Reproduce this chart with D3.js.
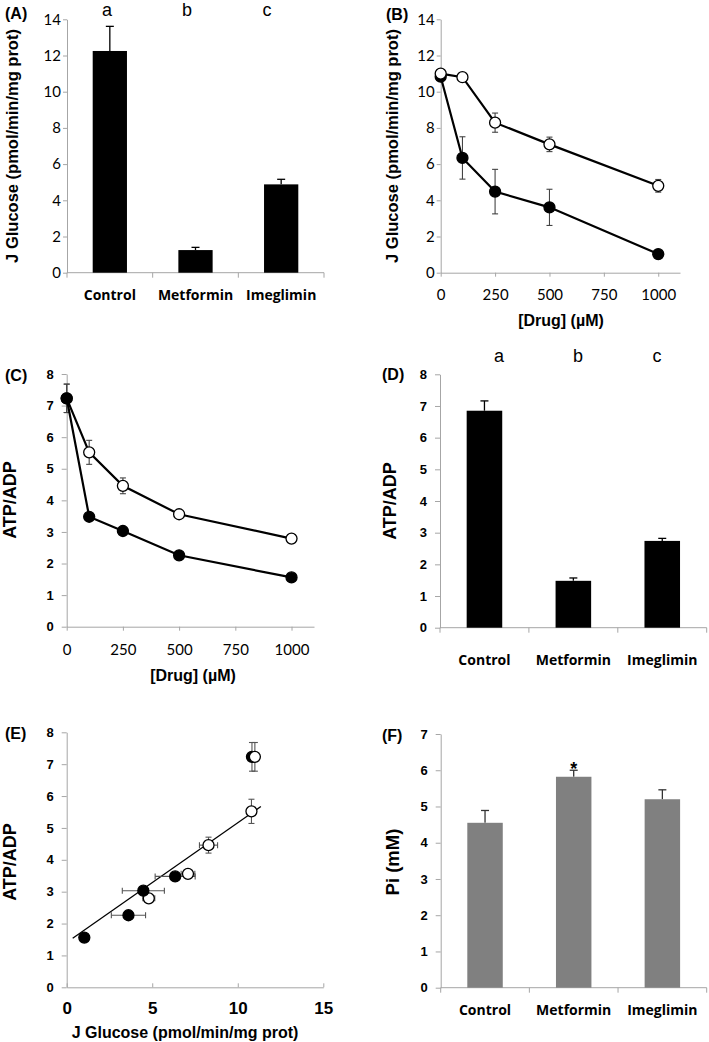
<!DOCTYPE html>
<html><head><meta charset="utf-8">
<script src="https://cdn.jsdelivr.net/npm/d3@7"></script>
<style>body{margin:0;background:#fff} svg{display:block}</style>
</head><body><svg id="c" width="709" height="1042"></svg>
<script>
// ---------- data ----------
const categories = ["Control", "Metformin", "Imeglimin"];
const groupLetters = ["a", "b", "c"];
const glucoseMean = [12.25, 1.25, 4.88];
const glucoseErr = [1.36, 0.15, 0.28];
const glucoseTicks = [0, 2, 4, 6, 8, 10, 12, 14];
const doses = [0, 100, 250, 500, 1000];
const doseTicks = [0, 250, 500, 750, 1000];
const glucoseFilled = [10.83, 6.34, 4.48, 3.61, 1.03];
const glucoseFilledErr = [0.15, 1.17, 1.23, 1.0, 0.1];
const glucoseOpen = [11.0, 10.8, 8.29, 7.09, 4.8];
const glucoseOpenErr = [0.1, 0.1, 0.53, 0.4, 0.35];
const atpFilled = [7.23, 3.48, 3.03, 2.26, 1.56];
const atpFilledErr = [0.45, 0.08, 0.08, 0.08, 0.12];
const atpOpen = [7.23, 5.52, 4.46, 3.56, 2.79];
const atpOpenErr = [0.45, 0.38, 0.25, 0.08, 0.1];
const atpTicks = [0, 1, 2, 3, 4, 5, 6, 7, 8];
const atpMean = [6.85, 1.48, 2.74];
const atpErr = [0.31, 0.09, 0.08];
const jTicks = [0, 5, 10, 15];
const fitLine = [[0.35, 1.54], [11.35, 5.67]];
const piMean = [4.55, 5.82, 5.20];
const piErr = [0.34, 0.18, 0.26];
const piTicks = [0, 1, 2, 3, 4, 5, 6, 7];

// ---------- helpers ----------
const svg = d3.select("#c");
const AX = "#a6a6a6";
const ARIAL = "'Liberation Sans', Arial, sans-serif";
const CAL = "Lato, 'Open Sans', sans-serif";
const CATF = "'Open Sans', Lato, sans-serif";

function styleAxis(g, font, size, weight) {
  g.selectAll(".domain").attr("stroke", AX).attr("stroke-width", 1);
  g.selectAll(".tick line").attr("stroke", AX);
  g.selectAll("text").attr("fill", "#000").attr("font-family", font)
    .attr("font-size", size).attr("font-weight", weight);
  g.attr("font-family", null).attr("font-size", null);
}
function text(x, y, s, o) {
  const t = svg.append("text").attr("x", x).attr("y", y).text(s)
    .attr("font-family", o.font || ARIAL).attr("font-size", o.size || 16)
    .attr("font-weight", o.weight || "bold").attr("fill", "#000")
    .attr("text-anchor", o.anchor || "start");
  if (o.rot) t.attr("transform", `rotate(-90,${x},${y})`).attr("dominant-baseline", "central");
  return t;
}
function yAxis(x0, y, ticks, font, size, weight, tsize, pad) {
  const g = svg.append("g").attr("transform", `translate(${x0},0)`)
    .call(d3.axisLeft(y).tickValues(ticks).tickSize(tsize).tickPadding(pad).tickSizeOuter(0).tickFormat(d3.format("d")));
  styleAxis(g, font, size, weight);
}
function barPanel(o) {
  const x = d3.scaleBand().domain(categories).range(o.xr);
  const y = d3.scaleLinear().domain([0, o.ymax]).range(o.yr);
  yAxis(o.xr[0], y, o.ticks, o.tickFont, o.tickSize, o.tickWeight, o.ts, o.tp);
  const base = y(0);
  svg.append("line").attr("x1", o.xr[0]).attr("x2", o.xr[1]).attr("y1", base).attr("y2", base).attr("stroke", AX);
  const bounds = categories.map(c => x(c)).concat([o.xr[1]]);
  svg.selectAll(null).data(bounds).enter().append("line")
    .attr("x1", d => d).attr("x2", d => d).attr("y1", base).attr("y2", base + 5).attr("stroke", AX);
  const bw = x.bandwidth() * 0.4;
  const rows = categories.map((c, i) => ({ c, m: o.mean[i], e: o.err[i] }));
  const cx = d => x(d.c) + x.bandwidth() / 2;
  svg.selectAll(null).data(rows).enter().append("line")
    .attr("x1", cx).attr("x2", cx).attr("y1", d => y(d.m)).attr("y2", d => y(d.m + d.e))
    .attr("stroke", o.errColor).attr("stroke-width", 1.3);
  svg.selectAll(null).data(rows).enter().append("line")
    .attr("x1", d => cx(d) - 4).attr("x2", d => cx(d) + 4).attr("y1", d => y(d.m + d.e)).attr("y2", d => y(d.m + d.e))
    .attr("stroke", o.errColor).attr("stroke-width", 1.3);
  svg.selectAll(null).data(rows).enter().append("rect")
    .attr("x", d => cx(d) - bw / 2).attr("width", bw)
    .attr("y", d => y(d.m)).attr("height", d => base - y(d.m)).attr("fill", o.fill);
  svg.selectAll(null).data(rows).enter().append("text")
    .attr("x", cx).attr("y", o.catY).text(d => d.c).attr("text-anchor", "middle")
    .attr("font-family", CATF).attr("font-weight", "bold").attr("font-size", 14).attr("fill", "#000");
  return { x, y, rows, cx };
}
function errV(x, y, px, v, e, color, cap) {
  svg.append("line").attr("x1", px).attr("x2", px).attr("y1", y(v - e)).attr("y2", y(v + e)).attr("stroke", color).attr("stroke-width", 1.1);
  [v - e, v + e].forEach(t => svg.append("line").attr("x1", px - cap).attr("x2", px + cap).attr("y1", y(t)).attr("y2", y(t)).attr("stroke", color).attr("stroke-width", 1.1));
}
function errH(x, py, v, e, color, cap) {
  svg.append("line").attr("y1", py).attr("y2", py).attr("x1", x(v - e)).attr("x2", x(v + e)).attr("stroke", color).attr("stroke-width", 1.1);
  [v - e, v + e].forEach(t => svg.append("line").attr("y1", py - cap).attr("y2", py + cap).attr("x1", x(t)).attr("x2", x(t)).attr("stroke", color).attr("stroke-width", 1.1));
}
function dot(px, py, filled) {
  svg.append("circle").attr("cx", px).attr("cy", py).attr("r", 5.5)
    .attr("fill", filled ? "#000" : "#fff").attr("stroke", "#000").attr("stroke-width", 1.3);
}
function linePanel(o) {
  const x = d3.scaleLinear().domain([0, 1100]).range(o.xr);
  const y = d3.scaleLinear().domain([0, o.ymax]).range(o.yr);
  yAxis(o.xr[0], y, o.ticks, o.tickFont, o.tickSize, o.tickWeight, o.ts, o.tp);
  const gx = svg.append("g").attr("transform", `translate(0,${y(0)})`)
    .call(d3.axisBottom(x).tickValues(doseTicks).tickSize(4).tickPadding(o.xpad).tickSizeOuter(0).tickFormat(d3.format("d")));
  styleAxis(gx, CAL, 15, "normal");
  const line = d3.line().x((d, i) => x(doses[i])).y(d => y(d));
  o.series.forEach(s => {
    s.vals.forEach((v, i) => errV(x, y, x(doses[i]), v, s.err[i], "#444", 3));
    svg.append("path").attr("d", line(s.vals)).attr("fill", "none").attr("stroke", "#000").attr("stroke-width", 2.2);
    s.vals.forEach((v, i) => dot(x(doses[i]), y(v), s.filled));
  });
}

// ---------- Panel A ----------
const A = barPanel({ xr: [67, 324], yr: [272.7, 19.3], ymax: 14, ticks: glucoseTicks, tickFont: CAL, tickSize: 15, tickWeight: "normal", ts: 4, tp: 2,
  mean: glucoseMean, err: glucoseErr, fill: "#000", errColor: "#000", catY: 300 });
const lA = d3.scalePoint().domain(categories).range([107, 267]);
categories.forEach((c, i) => text(lA(c), 16, groupLetters[i], { font: "'Liberation Sans Narrow', 'Liberation Sans', sans-serif", size: 18, weight: "normal", anchor: "middle" }));
text(5, 19, "(A)", { size: 16 });
text(12, 146, "J Glucose (pmol/min/mg prot)", { size: 16.5, anchor: "middle", rot: true });

// ---------- Panel B ----------
linePanel({ xr: [440.7, 680], yr: [272.7, 19.3], ymax: 14, ticks: glucoseTicks, tickFont: CAL, tickSize: 15, tickWeight: "normal", ts: 4, tp: 2, xpad: 13,
  series: [{ vals: glucoseFilled, err: glucoseFilledErr, filled: true }, { vals: glucoseOpen, err: glucoseOpenErr, filled: false }] });
text(386, 20, "(B)", { size: 16 });
text(392, 146, "J Glucose (pmol/min/mg prot)", { size: 16.5, anchor: "middle", rot: true });
text(561, 326, "[Drug] (µM)", { size: 16, anchor: "middle" });

// ---------- Panel C ----------
linePanel({ xr: [66.7, 314], yr: [626.7, 374], ymax: 8, ticks: atpTicks, tickFont: ARIAL, tickSize: 13, tickWeight: "bold", ts: 5, tp: 8, xpad: 14,
  series: [{ vals: atpOpen, err: atpOpenErr, filled: false }, { vals: atpFilled, err: atpFilledErr, filled: true }] });
text(5, 381, "(C)", { size: 16 });
text(10, 500, "ATP/ADP", { size: 18, anchor: "middle", rot: true });
text(193, 681, "[Drug] (µM)", { size: 16, anchor: "middle" });

// ---------- Panel D ----------
barPanel({ xr: [440, 706.7], yr: [627.7, 374.3], ymax: 8, ticks: atpTicks, tickFont: ARIAL, tickSize: 13, tickWeight: "bold", ts: 5, tp: 8,
  mean: atpMean, err: atpErr, fill: "#000", errColor: "#000", catY: 665 });
const lD = d3.scalePoint().domain(categories).range([499, 657]);
categories.forEach((c, i) => text(lD(c), 362, groupLetters[i], { font: "'Liberation Sans Narrow', 'Liberation Sans', sans-serif", size: 18, weight: "normal", anchor: "middle" }));
text(382, 380, "(D)", { size: 16 });
text(390, 501, "ATP/ADP", { size: 18, anchor: "middle", rot: true });

// ---------- Panel E ----------
{
  const x = d3.scaleLinear().domain([0, 15]).range([66.7, 323.3]);
  const y = d3.scaleLinear().domain([0, 8]).range([987.3, 732.3]);
  yAxis(66.7, y, atpTicks, ARIAL, 13, "bold", 5, 8);
  const gx = svg.append("g").attr("transform", `translate(0,${y(0)})`)
    .call(d3.axisBottom(x).tickValues(jTicks).tickSizeInner(-4).tickSizeOuter(0).tickPadding(15));
  styleAxis(gx, ARIAL, 17, "bold");
  svg.append("line").attr("x1", x(fitLine[0][0])).attr("y1", y(fitLine[0][1])).attr("x2", x(fitLine[1][0])).attr("y2", y(fitLine[1][1]))
    .attr("stroke", "#000").attr("stroke-width", 1.3);
  const pts = [];
  doses.forEach((d, i) => pts.push({ d, f: false, x: glucoseOpen[i], ex: glucoseOpenErr[i], y: atpOpen[i], ey: atpOpenErr[i] }));
  doses.forEach((d, i) => pts.push({ d, f: true, x: glucoseFilled[i], ex: glucoseFilledErr[i], y: atpFilled[i], ey: atpFilledErr[i] }));
  // control (dose 0) drawn last, filled before open
  pts.sort((a, b) => (a.d === 0) - (b.d === 0) || (a.d === 0 ? (b.f - a.f) : 0));
  pts.forEach(p => {
    errH(x, y(p.y), p.x, p.ex, "#555", 3);
    errV(x, y, x(p.x), p.y, p.ey, "#555", 3);
  });
  pts.forEach(p => dot(x(p.x), y(p.y), p.f));
  text(5, 739, "(E)", { size: 16 });
  text(10, 862, "ATP/ADP", { size: 18, anchor: "middle", rot: true });
  text(185, 1038, "J Glucose (pmol/min/mg prot)", { size: 16, anchor: "middle" });
}

// ---------- Panel F ----------
const F = barPanel({ xr: [440.7, 706.7], yr: [987.7, 734], ymax: 7, ticks: piTicks, tickFont: ARIAL, tickSize: 13, tickWeight: "bold", ts: 5, tp: 8,
  mean: piMean, err: piErr, fill: "#808080", errColor: "#333", catY: 1015 });
text(F.cx(F.rows[1]), F.y(piMean[1] + piErr[1]) + 5, "*", { size: 18, anchor: "middle" });
text(382, 741, "(F)", { size: 16 });
text(392, 862, "Pi (mM)", { size: 18.5, anchor: "middle", rot: true });
</script></body></html>
